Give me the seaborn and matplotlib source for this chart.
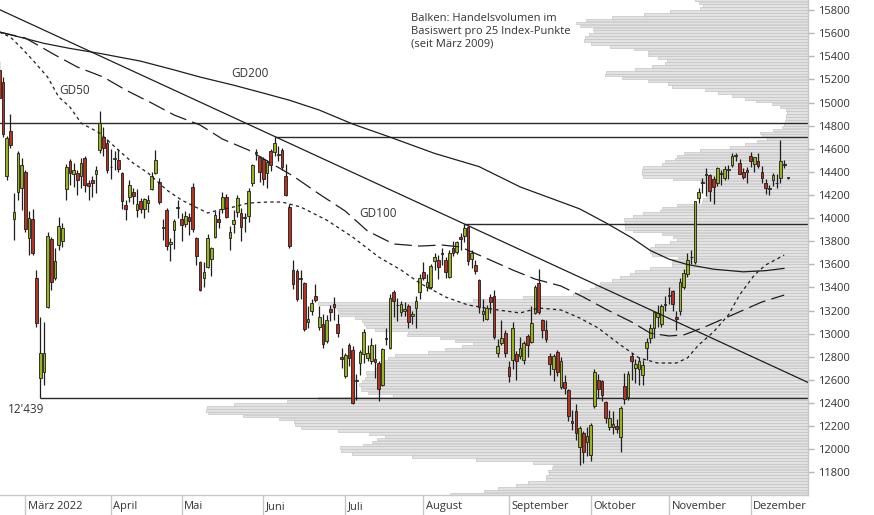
import matplotlib
matplotlib.use("Agg")
import matplotlib.pyplot as plt
import numpy as np
import pandas as pd
import seaborn as sns

# Xetra trading days 18.02.2022 - 15.12.2022 (Karfreitag / Ostermontag geschlossen)
days = pd.bdate_range("2022-02-18", "2022-12-15")
days = days[~days.isin(pd.to_datetime(["2022-04-15", "2022-04-18"]))]

opens = [15280, 15180, 14360, 14750, 13990, 14230, 14260, 14400, 13830, 13990,
         13480, 12620, 12670, 13230, 13820, 13480, 13770, 13800, 14250, 14490,
         14380, 14390, 14360, 14520, 14300, 14330, 14380, 14590, 14700, 14650,
         14440, 14510, 14500, 14390, 14110, 14180, 14230, 14070, 14150, 14080,
         14130, 14250, 14390, 14310, 13910, 14070, 13780, 13900, 14090, 13990,
         13950, 14010, 14270, 13830, 13620, 13480, 13580, 13650, 13840, 13990,
         14080, 14180, 13830, 13950, 14050, 14040, 14000, 14020, 14300, 14560,
         14530, 14510, 14390, 14580, 14570, 14550, 14590, 14360, 14100, 13550,
         13540, 13470, 13440, 13100, 13200, 13330, 13060, 13080, 12940, 13210,
         13260, 13080, 12800, 12630, 12900, 12860, 12590, 12750, 12820, 12790,
         12760, 12780, 12750, 12560, 12950, 12880, 13360, 13250, 13190, 13200,
         13240, 13150, 13220, 13360, 13530, 13400, 13400, 13630, 13640, 13690,
         13640, 13490, 13740, 13710, 13840, 13845, 13920, 13650, 13590, 13460,
         13170, 13130, 13320, 13330, 12830, 12920, 13010, 12710, 12770, 12820,
         12810, 12770, 12980, 12930, 13180, 13440, 13120, 13030, 12810, 12690,
         12840, 12540, 12580, 12510, 12240, 12330, 12020, 12140, 12060, 11950,
         12370, 12600, 12590, 12410, 12190, 12190, 12200, 12105, 12545, 12450,
         12810, 12700, 12690, 12640, 12880, 12960, 13050, 13145, 13080, 13245,
         13330, 13370, 13140, 13200, 13400, 13520, 13660, 13620, 14170, 14300,
         14370, 14370, 14340, 14300, 14385, 14350, 14420, 14460, 14540, 14480,
         14400, 14420, 14540, 14470, 14490, 14400, 14300, 14255, 14330, 14300,
         14346, 14468, 14346]
highs = [15360, 15220, 14710, 14900, 14220, 14580, 14520, 14420, 14060, 14080,
         13550, 13140, 13100, 13880, 13840, 13740, 14010, 13960, 14470, 14510,
         14480, 14420, 14520, 14540, 14330, 14360, 14450, 14925, 14790, 14680,
         14600, 14580, 14600, 14400, 14160, 14330, 14260, 14250, 14170, 14170,
         14200, 14400, 14590, 14350, 13990, 14090, 13830, 13990, 14160, 14040,
         14060, 14040, 14300, 13840, 13630, 13620, 13860, 13750, 14060, 14070,
         14230, 14210, 13930, 14070, 14200, 14090, 14040, 14260, 14470, 14600,
         14540, 14530, 14500, 14600, 14705, 14620, 14610, 14470, 14120, 13640,
         13560, 13550, 13450, 13240, 13300, 13430, 13240, 13170, 13160, 13250,
         13320, 13170, 12880, 12830, 12920, 12890, 12650, 12860, 13040, 12900,
         12960, 12910, 12760, 12880, 13050, 13340, 13380, 13310, 13280, 13270,
         13260, 13200, 13330, 13520, 13620, 13520, 13600, 13700, 13680, 13740,
         13660, 13720, 13800, 13800, 13870, 13948, 13930, 13720, 13640, 13470,
         13300, 13250, 13340, 13380, 12950, 13120, 13030, 12760, 13100, 12850,
         12970, 12940, 13000, 13240, 13420, 13560, 13130, 13120, 12830, 12820,
         12860, 12800, 12640, 12520, 12340, 12390, 12200, 12160, 12190, 12230,
         12690, 12650, 12600, 12420, 12340, 12330, 12260, 12370, 12660, 12680,
         12830, 12780, 12800, 12770, 12960, 13080, 13200, 13250, 13260, 13330,
         13400, 13380, 13200, 13480, 13560, 13700, 13720, 14150, 14260, 14350,
         14430, 14380, 14360, 14440, 14420, 14450, 14460, 14560, 14560, 14510,
         14430, 14440, 14570, 14530, 14560, 14450, 14340, 14290, 14390, 14380,
         14675, 14500, 14350]
lows = [15030, 14700, 14330, 14610, 13807, 14160, 14070, 13880, 13680, 13680,
        13060, 12439, 12560, 13220, 13380, 13460, 13720, 13750, 14160, 14290,
        14270, 14200, 14260, 14230, 14160, 14180, 14220, 14560, 14540, 14390,
        14340, 14420, 14400, 14080, 13980, 14140, 14120, 14010, 14040, 14000,
        14050, 14240, 14380, 14120, 13810, 13720, 13630, 13730, 14000, 13800,
        13920, 13850, 13880, 13590, 13370, 13400, 13570, 13500, 13830, 13910,
        14040, 14000, 13720, 13870, 14010, 13800, 13880, 13970, 14280, 14500,
        14310, 14290, 14260, 14410, 14540, 14490, 14420, 14190, 13740, 13390,
        13280, 13300, 13020, 13050, 13160, 13270, 13030, 12880, 12920, 13110,
        13120, 12970, 12700, 12620, 12720, 12390, 12430, 12640, 12750, 12760,
        12740, 12620, 12420, 12550, 12900, 12870, 13140, 13110, 13150, 13150,
        13050, 13080, 13050, 13300, 13460, 13370, 13390, 13550, 13470, 13590,
        13480, 13480, 13670, 13690, 13720, 13790, 13590, 13570, 13520, 13180,
        13110, 13120, 13180, 12950, 12800, 12900, 12800, 12580, 12690, 12600,
        12780, 12740, 12800, 12920, 13170, 13170, 12960, 12930, 12640, 12590,
        12630, 12520, 12480, 12240, 12170, 12080, 11862, 11880, 11940, 11900,
        12360, 12440, 12420, 12230, 12170, 12130, 12140, 11975, 12390, 12430,
        12600, 12570, 12560, 12560, 12770, 12920, 12960, 13060, 13060, 13200,
        13260, 13200, 13030, 13160, 13390, 13490, 13600, 13600, 14130, 14220,
        14190, 14150, 14120, 14280, 14290, 14330, 14340, 14440, 14490, 14380,
        14340, 14300, 14440, 14400, 14430, 14300, 14210, 14200, 14280, 14260,
        14300, 14430, 14342]
closes = [15042, 14731, 14693, 14631, 14052, 14567, 14461, 13905, 14000, 13698,
          13094, 12835, 12831, 13848, 13443, 13628, 13929, 13917, 14441, 14388,
          14413, 14326, 14474, 14283, 14274, 14306, 14418, 14820, 14606, 14415,
          14446, 14518, 14424, 14152, 14078, 14284, 14193, 14124, 14076, 14164,
          14154, 14362, 14502, 14142, 13924, 13756, 13794, 13979, 14098, 13939,
          14020, 13971, 13902, 13674, 13381, 13534, 13828, 13740, 14027, 13964,
          14186, 14008, 13882, 13982, 14175, 13920, 14008, 14231, 14462, 14575,
          14400, 14340, 14485, 14460, 14653, 14556, 14445, 14198, 13762, 13427,
          13304, 13483, 13038, 13126, 13265, 13292, 13145, 12913, 13118, 13186,
          13231, 13003, 12784, 12813, 12790, 12401, 12595, 12843, 13015, 12832,
          12905, 12757, 12519, 12864, 12959, 13308, 13282, 13246, 13254, 13211,
          13097, 13166, 13282, 13484, 13479, 13449, 13587, 13662, 13574, 13688,
          13535, 13700, 13694, 13795, 13816, 13910, 13627, 13697, 13544, 13230,
          13194, 13220, 13271, 12971, 12893, 12961, 12835, 12631, 13050, 12761,
          12872, 12916, 12905, 13088, 13402, 13189, 13028, 12957, 12741, 12803,
          12671, 12767, 12532, 12284, 12228, 12139, 12183, 11976, 12114, 12209,
          12670, 12517, 12471, 12273, 12272, 12220, 12172, 12355, 12438, 12649,
          12765, 12741, 12767, 12731, 12931, 13053, 13187, 13175, 13243, 13253,
          13338, 13257, 13130, 13447, 13524, 13640, 13666, 14146, 14224, 14313,
          14379, 14234, 14266, 14431, 14380, 14422, 14428, 14540, 14541, 14383,
          14356, 14397, 14490, 14529, 14447, 14343, 14261, 14264, 14370, 14306,
          14494, 14462, 14346]

# moving averages, read at sample days (index into trading days)
gd200_day = [0, 6, 12, 19, 27, 38, 47, 54, 63, 70, 78, 86, 95, 105, 117, 129, 140,
             148, 156, 163, 170, 175, 180, 185, 192, 200, 206, 211]
gd200_val = [15610, 15562, 15512, 15468, 15425, 15358, 15282, 15220, 15150, 15090,
             15020, 14935, 14814, 14701, 14560, 14445, 14270, 14175, 14080, 13960,
             13830, 13720, 13645, 13598, 13558, 13535, 13545, 13565]
gd100_day = [0, 7, 15, 21, 28, 34, 41, 47, 54, 60, 67, 73, 79, 86, 93, 99, 106, 113,
             119, 124, 132, 138, 144, 151, 157, 163, 170, 175, 180, 184, 189, 197,
             205, 211]
gd100_val = [15610, 15558, 15411, 15307, 15220, 15108, 14995, 14892, 14805, 14684,
             14589, 14476, 14364, 14208, 14061, 13888, 13776, 13758, 13767, 13750,
             13637, 13551, 13473, 13412, 13317, 13213, 13101, 13005, 12980, 12989,
             13049, 13161, 13274, 13334]
gd50_day = [0, 3, 6, 9, 13, 16, 19, 22, 27, 32, 36, 40, 45, 49, 56, 59, 63, 67, 72,
            76, 81, 88, 95, 102, 108, 113, 120, 126, 134, 140, 145, 151, 156, 161,
            167, 172, 177, 182, 185, 188, 192, 196, 199, 203, 206, 211]
gd50_val = [15610, 15566, 15471, 15367, 15220, 15047, 14961, 14822, 14736, 14589,
            14476, 14390, 14243, 14156, 14044, 14070, 14096, 14130, 14139, 14139,
            14096, 13983, 13836, 13663, 13551, 13438, 13317, 13248, 13205, 13179,
            13222, 13205, 13136, 13049, 12902, 12790, 12746, 12746, 12790, 12902,
            13015, 13162, 13335, 13508, 13594, 13680]

# trend line and horizontal levels
trend_day = [0.2, 217.4]
trend_val = [15802, 12578]
level_val = [14820, 14705, 13948, 12439]
level_from = [0, 74, 125, 11]

# volume profile: one bar per 25 index points, from 15875 down to 11600
profile_lo = list(range(15875, 11599, -25))
profile_vol = [113, 109, 105, 108, 138, 164, 196, 222, 232, 228, 215, 214, 219, 223,
               224, 217, 198, 174, 160, 160, 150, 141, 143, 156, 173, 202, 203, 186,
               160, 140, 136, 103, 90, 76, 63, 52, 36, 28, 22, 21, 22, 22, 23, 24,
               26, 35, 48, 46, 41, 51, 63, 78, 108, 124, 131, 133, 143, 146, 165,
               166, 166, 165, 135, 108, 101, 101, 101, 102, 101, 105, 106, 131, 146,
               148, 165, 175, 184, 183, 183, 183, 175, 146, 135, 131, 138, 153, 158,
               158, 156, 130, 136, 136, 136, 158, 173, 178, 188, 196, 208, 213, 218,
               228, 235, 285, 335, 490, 478, 471, 470, 468, 453, 446, 444, 442, 433,
               400, 401, 368, 353, 335, 346, 363, 380, 413, 420, 425, 425, 427, 433,
               442, 441, 443, 446, 449, 447, 447, 440, 415, 490, 521, 574, 601, 602,
               600, 565, 529, 514, 513, 507, 470, 439, 423, 431, 436, 445, 468, 467,
               456, 396, 332, 275, 255, 256, 260, 259, 262, 262, 280, 292, 310, 324,
               358]

month_names = ["März 2022", "April", "Mai", "Juni", "Juli", "August",
               "September", "Oktober", "November", "Dezember"]
note = "Balken: Handelsvolumen im\nBasiswert pro 25 Index-Punkte\n(seit März 2009)"

# --- style -----------------------------------------------------------
sns.set_theme(style="white")
plt.rcParams["font.family"] = ["Open Sans", "DejaVu Sans"]
ink = "#1e1e1e"
txt = "#333333"
grid_c = "#c8c8c8"
up_c, down_c = "#9cb21f", "#b8321f"

fig = plt.figure(figsize=(8.74, 5.15), dpi=100)
ax = fig.add_axes([0, 20 / 515, 808 / 874, 495 / 515])

# volume profile on its own (reversed) x scale
axv = ax.twiny()
axv.barh(np.array(profile_lo) + 12.5, profile_vol, height=23, color="#e2e2e2",
         edgecolor="#c4c4c4", linewidth=0.5)
axv.set_xlim(808, 0)
axv.xaxis.set_visible(False)
for s in axv.spines.values():
    s.set_visible(False)
ax.set_zorder(axv.get_zorder() + 1)
ax.patch.set_visible(False)

# candles
o, h, l, c = map(np.array, (opens, highs, lows, closes))
x = np.arange(len(o))
ax.vlines(x, l, h, color=ink, linewidth=0.9, zorder=3)
lo = np.minimum(o, c)
ht = np.maximum(np.abs(c - o), 6)
ax.bar(x, ht, bottom=lo, width=0.72, color=np.where(c >= o, up_c, down_c),
       edgecolor=ink, linewidth=0.6, zorder=4)

# lines
xmax = 217.4
ax.hlines(level_val, level_from, xmax, color="#2a2a2a", linewidth=1.0, zorder=2)
sns.lineplot(x=trend_day, y=trend_val, ax=ax, color=ink, linewidth=0.9, zorder=5)
sns.lineplot(x=gd200_day, y=gd200_val, ax=ax, color=ink, linewidth=0.9, zorder=5)
sns.lineplot(x=gd100_day, y=gd100_val, ax=ax, color=ink, linewidth=0.9,
             linestyle=(0, (14, 5)), zorder=5)
sns.lineplot(x=gd50_day, y=gd50_val, ax=ax, color=ink, linewidth=0.9,
             linestyle=(0, (2.6, 2.6)), zorder=5)

ax.text(20.3, 15108, "GD50", fontsize=8.5, color=txt, ha="center", va="center")
ax.text(67.4, 15255, "GD200", fontsize=8.5, color=txt, ha="center", va="center")
ax.text(101.8, 14044, "GD100", fontsize=8.5, color=txt, ha="center", va="center")
ax.text(2.2, 12340, "12'439", fontsize=8.5, color=txt, ha="left", va="center")
ax.text(110.6, 15775, note, fontsize=8, color=txt, ha="left", va="top",
        linespacing=1.25)

# axes
ax.set_xlim(0.2, xmax)
ax.set_ylim(11604, 15887)
ax.set_xlabel("")
ax.set_ylabel("")
ax.yaxis.tick_right()
ax.set_yticks(range(11800, 15801, 200))
ax.tick_params(axis="y", right=True, left=False, labelright=True, labelleft=False,
               length=4.5, width=1, color="#b5b5b5", pad=2.5, labelsize=8,
               labelcolor=txt)

month_pos = pd.Series(np.arange(len(days)), index=days).groupby(
    days.to_period("M")).first().iloc[1:].values
ax.set_xticks(month_pos)
ax.set_xticklabels([])
ax.tick_params(axis="x", bottom=True, length=14.5, width=1, color=grid_c)
for pos, name in zip(month_pos, month_names):
    ax.text(pos + 0.7, -0.024, name, transform=ax.get_xaxis_transform(),
            fontsize=8, color=txt, ha="left", va="center")

for side in ["top", "left"]:
    ax.spines[side].set_visible(False)
for side in ["right", "bottom"]:
    ax.spines[side].set_color(grid_c)
    ax.spines[side].set_linewidth(1)

fig.savefig("out.png", dpi=100)
